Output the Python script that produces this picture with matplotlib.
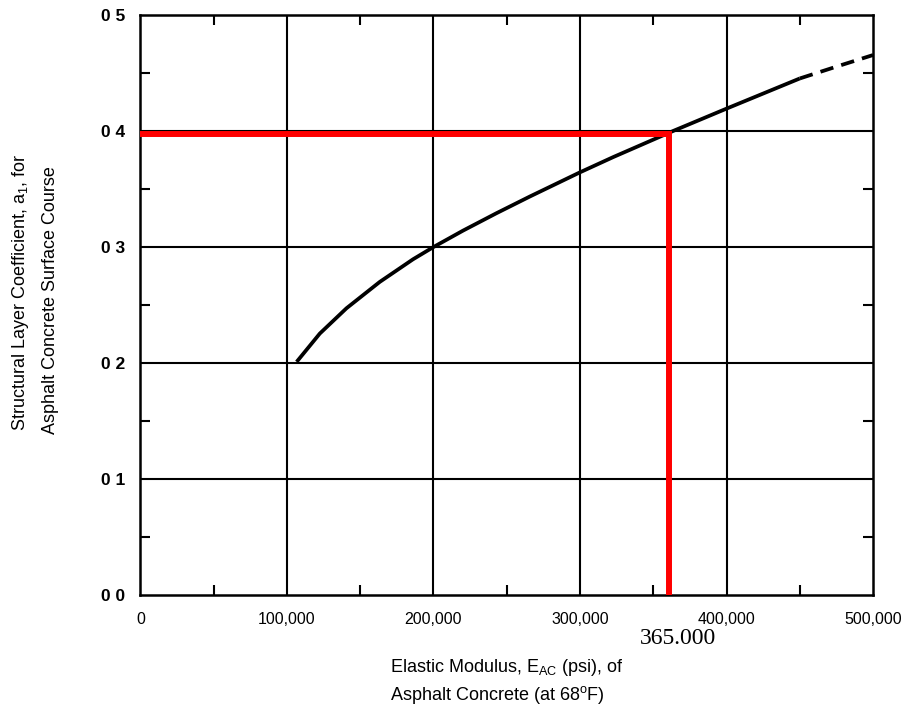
import matplotlib
matplotlib.use("Agg")
import matplotlib.pyplot as plt
from matplotlib.ticker import MultipleLocator

# curve
modulus_solid = [106600, 122400, 140600, 163300, 186000, 200000, 220100, 242900,
                 265700, 300000, 322800, 363500, 400000, 450000]
coef_solid = [0.2010, 0.2254, 0.2472, 0.2699, 0.2894, 0.300, 0.3141, 0.3291,
              0.3435, 0.3644, 0.3776, 0.400, 0.4193, 0.4453]
modulus_dash = [450000, 475000, 500000]
coef_dash = [0.4453, 0.4555, 0.4655]

x_ticks = [0, 100000, 200000, 300000, 400000, 500000]
x_labels = ["0", "100,000", "200,000", "300,000", "400,000", "500,000"]
y_ticks = [0.0, 0.1, 0.2, 0.3, 0.4, 0.5]
y_labels = ["0 0", "0 1", "0 2", "0 3", "0 4", "0 5"]

# red reading lines (drawn by hand on the original, a bit off the grid)
read_x = 360800
read_y = 0.397

plt.rcParams["font.family"] = ["Liberation Sans", "DejaVu Sans"]
plt.rcParams["mathtext.default"] = "regular"

fig = plt.figure(figsize=(9.08, 7.15), dpi=100)
ax = fig.add_axes([0.1547, 0.1678, 0.8068, 0.8112])

ax.set_xlim(0, 500000)
ax.set_ylim(0, 0.5)

# full grid at the major values
for xv in x_ticks[1:-1]:
    ax.axvline(xv, color="black", lw=1.5, zorder=1)
for yv in y_ticks[1:-1]:
    ax.axhline(yv, color="black", lw=1.5, zorder=1)

ax.plot(modulus_solid, coef_solid, color="black", lw=2.7, zorder=3,
        solid_capstyle="butt", solid_joinstyle="round")
ax.plot(modulus_dash, coef_dash, color="black", lw=2.7, ls=(0, (3.6, 2.2)), zorder=3)

ax.plot([0, read_x, read_x], [read_y, read_y, 0], color="#ff0000", lw=4.3,
        zorder=4, solid_joinstyle="miter", solid_capstyle="butt")

for s in ax.spines.values():
    s.set_linewidth(1.8)

ax.set_xticks(x_ticks)
ax.set_xticklabels(x_labels, fontsize=11.5)
ax.set_yticks(y_ticks)
ax.set_yticklabels(y_labels, fontsize=12.5, fontweight="bold")
ax.xaxis.set_minor_locator(MultipleLocator(50000))
ax.yaxis.set_minor_locator(MultipleLocator(0.05))
ax.tick_params(which="major", length=0)
ax.tick_params(axis="x", which="major", pad=12)
ax.tick_params(axis="y", which="major", pad=11)
ax.tick_params(which="minor", direction="in", length=7, width=1.5,
               top=True, right=True)

fig.text(678 / 908, 1 - 638 / 715, "365.000", fontsize=17,
         family=["Liberation Serif", "DejaVu Serif"], ha="center", va="center")

fig.text(390 / 908, 1 - 668 / 715, "Elastic Modulus, E$_{AC}$ (psi), of",
         fontsize=13, ha="left", va="center")
fig.text(390 / 908, 1 - 695 / 715, "Asphalt Concrete (at 68$^{o}$F)",
         fontsize=13, ha="left", va="center")

fig.text(21 / 908, 1 - 292 / 715, "Structural Layer Coefficient, a$_1$, for",
         fontsize=13, rotation=90, ha="center", va="center")
fig.text(51 / 908, 1 - 300 / 715, "Asphalt Concrete Surface Course",
         fontsize=13, rotation=90, ha="center", va="center")

fig.savefig("out.png", dpi=100)
